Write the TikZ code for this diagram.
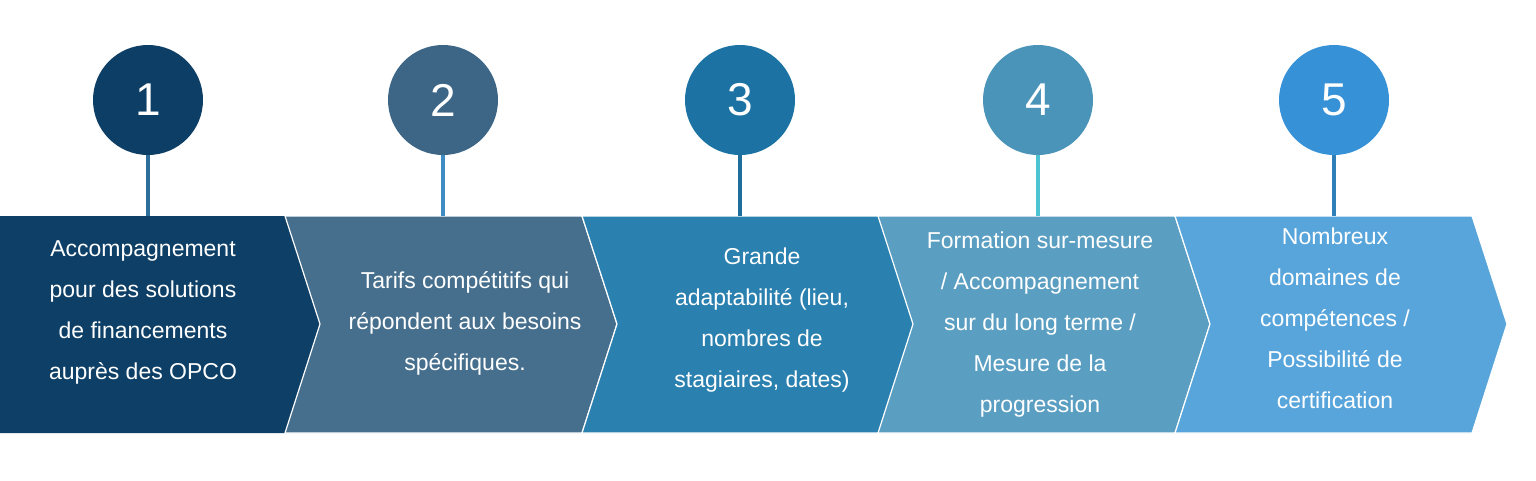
\documentclass[tikz,border=0pt]{standalone}
\usepackage{fontspec}
\setmainfont{Liberation Sans}
\definecolor{s1}{HTML}{0E3F66}\definecolor{c1}{HTML}{0D3F66}\definecolor{l1}{HTML}{2C6D99}
\definecolor{s2}{HTML}{466F8E}\definecolor{c2}{HTML}{3C6586}\definecolor{l2}{HTML}{3E8CC4}
\definecolor{s3}{HTML}{2A80AE}\definecolor{c3}{HTML}{1C73A3}\definecolor{l3}{HTML}{1F6F9C}
\definecolor{s4}{HTML}{5A9EC2}\definecolor{c4}{HTML}{4A94BA}\definecolor{l4}{HTML}{4CC3D3}
\definecolor{s5}{HTML}{58A5DB}\definecolor{c5}{HTML}{3791D6}\definecolor{l5}{HTML}{2F7FB8}
\tikzset{num/.style={circle,minimum size=110pt,inner sep=0,text=white,font=\fontsize{46}{46}\selectfont},
txt/.style={text=white,align=center,font=\fontsize{23}{41}\selectfont},
seg/.style={draw=white,line width=1.2pt}}
\begin{document}
\begin{tikzpicture}[x=1pt,y=-1pt]
\useasboundingbox[fill=white] (0,0) rectangle (1536,480);
\fill[s1] (0,216) -- (285,216) -- (320,324) -- (285,433) -- (0,433) -- cycle;
\foreach \i/\xa/\c in {2/285/s2,3/582/s3,4/878/s4,5/1175/s5}{
 \pgfmathsetmacro\xb{\xa+297}
 \filldraw[seg,fill=\c] (\xa,216) -- (\xb,216) -- (\xb+35,324) -- (\xb,433) -- (\xa,433) -- (\xa+35,324) -- cycle;}
\foreach \i/\x in {1/148,2/443,3/740,4/1038,5/1334}{
 \node[num,fill=c\i] (n\i) at (\x,100) {\i};
 \coordinate (b\i) at (\x,216);
 \draw[l\i,line width=4pt] (n\i.south) -- (b\i);}
\node[txt] (t1) at (143,312) {Accompagnement\\pour des solutions\\de financements\\auprès des OPCO};
\node[txt] (t2) at (465,323) {Tarifs compétitifs qui\\répondent aux besoins\\spécifiques.};
\node[txt] (t3) at (762,320) {Grande\\adaptabilité (lieu,\\nombres de\\stagiaires, dates)};
\node[txt] (t4) at (1040,325) {Formation sur-mesure\\/ Accompagnement\\sur du long terme /\\Mesure de la\\progression};
\node[txt] (t5) at (1335,318) {Nombreux\\domaines de\\compétences /\\Possibilité de\\certification};
\end{tikzpicture}
\end{document}
